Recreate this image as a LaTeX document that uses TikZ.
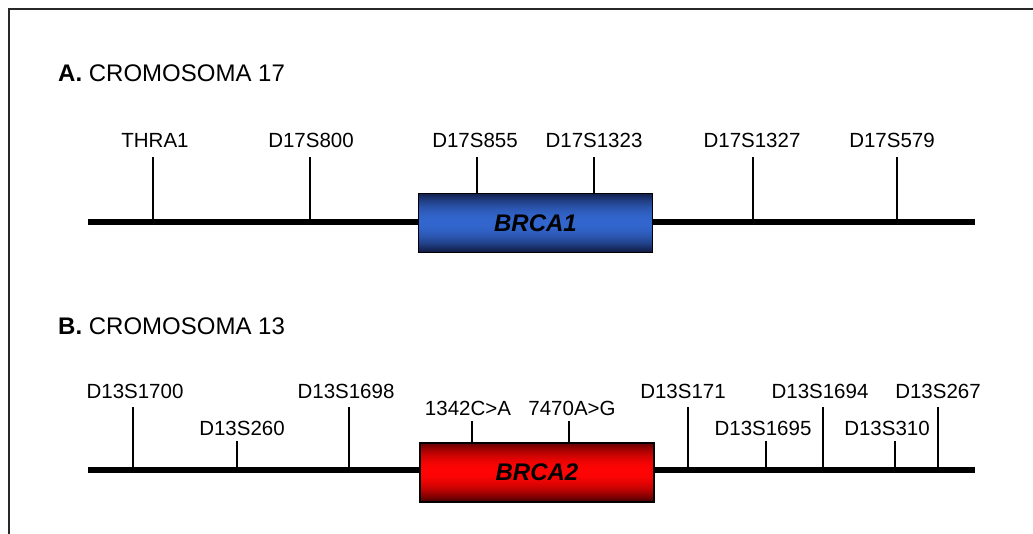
\documentclass[tikz,border=0pt]{standalone}
\usepackage{fontspec}
\setmainfont{Liberation Sans}
\usetikzlibrary{positioning, calc, backgrounds}
\definecolor{onecolor}{RGB}{50,102,206}
\definecolor{onedark}{RGB}{18,30,72}
\definecolor{twocolor}{RGB}{255,4,4}
\definecolor{twodark}{RGB}{88,0,0}
\definecolor{framecolor}{RGB}{40,40,40}

\begin{document}
\begin{tikzpicture}[
    x=1pt, y=-1pt,
    chrom/.style={line width=6pt},
    tick/.style={line width=1.4pt},
    marker/.style={anchor=base, inner sep=0pt, font=\fontsize{20.5}{24}\selectfont},
    title/.style={anchor=base west, inner sep=0pt, font=\fontsize{24}{28}\selectfont},
    gene/.style={rectangle, draw=black, line width=1.2pt, minimum width=234pt, minimum height=59pt, inner sep=0pt, font=\fontsize{24}{28}\selectfont\bfseries\itshape}
]
\useasboundingbox (0,0) rectangle (1033,534);
\draw[line width=2pt, framecolor] (9,545) -- (9,9) -- (1045,9);

% chromosome 17
\node[title] (titleA) at (58,82) {\textbf{A.} CROMOSOMA 17};
\coordinate (chrAstart) at (88,222);
\coordinate (chrAend) at (975,222);
\node[gene] (brca1) at (535.5,223) {BRCA1};

\node[marker] (thra1) at (155,148) {THRA1};
\node[marker] (d17s800) at (311,148) {D17S800};
\node[marker] (d17s855) at (475,148) {D17S855};
\node[marker] (d17s1323) at (594,148) {D17S1323};
\node[marker] (d17s1327) at (752,148) {D17S1327};
\node[marker] (d17s579) at (892,148) {D17S579};

\coordinate (tThra1) at (153,157);
\coordinate (tD17s800) at (310,157);
\coordinate (tD17s855) at (477,157);
\coordinate (tD17s1323) at (594,157);
\coordinate (tD17s1327) at (753,157);
\coordinate (tD17s579) at (897,157);

\draw[tick] (tThra1) -- (tThra1 |- chrAstart);
\draw[tick] (tD17s800) -- (tD17s800 |- chrAstart);
\draw[tick] (tD17s855) -- (tD17s855 |- brca1.north);
\draw[tick] (tD17s1323) -- (tD17s1323 |- brca1.north);
\draw[tick] (tD17s1327) -- (tD17s1327 |- chrAstart);
\draw[tick] (tD17s579) -- (tD17s579 |- chrAstart);

% chromosome 13
\node[title] (titleB) at (58,335) {\textbf{B.} CROMOSOMA 13};
\coordinate (chrBstart) at (88,470);
\coordinate (chrBend) at (975,470);
\node[gene] (brca2) at (537,472.5) {BRCA2};

\node[marker] (d13s1700) at (135,399) {D13S1700};
\node[marker] (d13s260) at (242,435) {D13S260};
\node[marker] (d13s1698) at (346,399) {D13S1698};
\node[marker] (mutA) at (468,415) {1342C>A};
\node[marker] (mutB) at (572,415) {7470A>G};
\node[marker] (d13s171) at (683,399) {D13S171};
\node[marker] (d13s1695) at (763,435) {D13S1695};
\node[marker] (d13s1694) at (820,399) {D13S1694};
\node[marker] (d13s310) at (887,435) {D13S310};
\node[marker] (d13s267) at (938,399) {D13S267};

\coordinate (tD13s1700) at (133,407);
\coordinate (tD13s260) at (237,441);
\coordinate (tD13s1698) at (349,407);
\coordinate (tMutA) at (472,421);
\coordinate (tMutB) at (569,421);
\coordinate (tD13s171) at (688,407);
\coordinate (tD13s1695) at (766,441);
\coordinate (tD13s1694) at (823,407);
\coordinate (tD13s310) at (895,441);
\coordinate (tD13s267) at (938,407);

\draw[tick] (tD13s1700) -- (tD13s1700 |- chrBstart);
\draw[tick] (tD13s260) -- (tD13s260 |- chrBstart);
\draw[tick] (tD13s1698) -- (tD13s1698 |- chrBstart);
\draw[tick] (tMutA) -- (tMutA |- brca2.north);
\draw[tick] (tMutB) -- (tMutB |- brca2.north);
\draw[tick] (tD13s171) -- (tD13s171 |- chrBstart);
\draw[tick] (tD13s1695) -- (tD13s1695 |- chrBstart);
\draw[tick] (tD13s1694) -- (tD13s1694 |- chrBstart);
\draw[tick] (tD13s310) -- (tD13s310 |- chrBstart);
\draw[tick] (tD13s267) -- (tD13s267 |- chrBstart);

% chromosome lines, then gene shading (dark at top and bottom)
\begin{scope}[on background layer]
\draw[chrom] (chrAstart) -- (chrAend);
\draw[chrom] (chrBstart) -- (chrBend);
\foreach \i in {0,...,58} {
    \pgfmathsetmacro{\mix}{100*(1-((\i-29)/29)^2)}
    \fill[onecolor!\mix!onedark] ($(brca1.north west)+(0,\i)$) rectangle ($(brca1.north east)+(0,\i+1.1)$);
    \fill[twocolor!\mix!twodark] ($(brca2.north west)+(0,\i)$) rectangle ($(brca2.north east)+(0,\i+1.1)$);
}
\end{scope}
\end{tikzpicture}
\end{document}
